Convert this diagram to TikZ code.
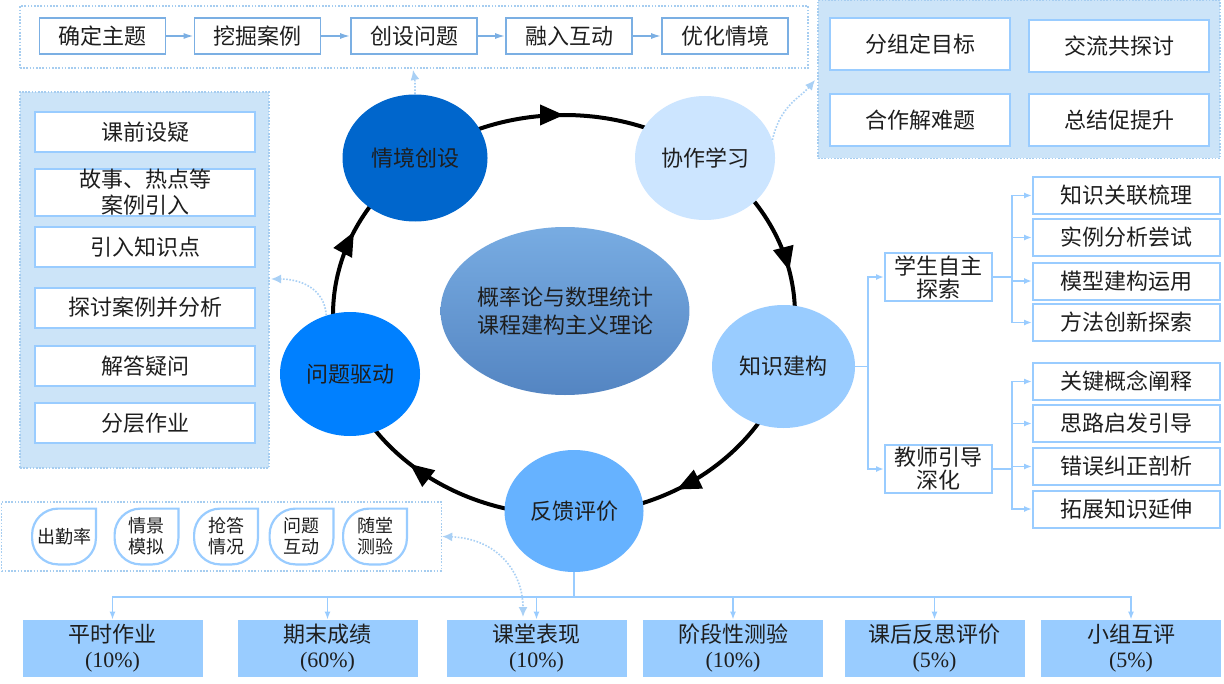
\documentclass[tikz,border=0pt]{standalone}
\usepackage{fontspec}
\usepackage{tikz}
\usetikzlibrary{shapes.geometric, arrows.meta, decorations.markings}
\setmainfont{Liberation Serif}
\newfontfamily\cjk{Noto Sans CJK SC}
\definecolor{inkgray}{HTML}{1E1E1E}
\definecolor{boxline}{HTML}{7BAFE3}
\definecolor{softline}{HTML}{99CCFF}
\definecolor{panelfill}{HTML}{CCE4F8}
\definecolor{paneldot}{HTML}{A6CDF0}
\definecolor{hintblue}{HTML}{A9D0F5}
\definecolor{scorefill}{HTML}{99CCFF}
\definecolor{stageA}{HTML}{0066CC}
\definecolor{stageB}{HTML}{CCE5FF}
\definecolor{stageC}{HTML}{99CCFF}
\definecolor{stageD}{HTML}{66B2FF}
\definecolor{stageE}{HTML}{0080FF}
\definecolor{coreTop}{HTML}{78ACE2}
\definecolor{coreBottom}{HTML}{5485C2}
\tikzset{
    cn-text/.style = {font=\cjk\fontsize{11pt}{13pt}\selectfont, text=inkgray, align=center, inner sep=0pt},
    chain-box/.style = {cn-text, draw=boxline, fill=white, line width=0.9pt, minimum width=63pt, minimum height=18pt},
    panel/.style = {draw=paneldot, dash pattern=on 0.8pt off 0.8pt, line width=0.7pt, inner sep=0pt},
    panel-fill/.style = {panel, fill=panelfill},
    card/.style = {cn-text, draw=softline, fill=white, line width=1pt},
    stage/.style = {cn-text, ellipse, minimum width=70pt, minimum height=62pt},
    drop-text/.style = {cn-text, font=\cjk\fontsize{9pt}{10.5pt}\selectfont, minimum width=31.5pt, minimum height=27.5pt},
    drop-line/.style = {draw=softline, line width=1.1pt},
    tree-line/.style = {draw=softline, line width=0.8pt},
    link/.style = {tree-line, -{Latex[length=4pt,width=3pt]}},
    chain-link/.style = {draw=boxline, line width=0.8pt, -{Latex[length=5pt,width=3pt]}},
    hint/.style = {draw=hintblue, dash pattern=on 0.8pt off 0.8pt, line width=0.8pt, -{Latex[length=5pt,width=4.5pt]}},
    score-box/.style = {cn-text, fill=scorefill, minimum width=90pt, minimum height=28.5pt, font=\cjk\fontsize{11pt}{12.5pt}\selectfont},
    cycle-ring/.style = {draw=black, line width=2pt, postaction={decorate},
        decoration={markings,
            mark=at position 0.164 with {\arrow{Triangle[length=12pt,width=10pt]}},
            mark=at position 0.372 with {\arrow{Triangle[length=12pt,width=10pt]}},
            mark=at position 0.564 with {\arrow{Triangle[length=12pt,width=10pt]}},
            mark=at position 0.75 with {\arrow{Triangle[length=12pt,width=10pt]}},
            mark=at position 0.967 with {\arrow{Triangle[length=12pt,width=10pt]}}}},
}

\begin{document}
\begin{tikzpicture}[x=0.5pt, y=-0.5pt]
\useasboundingbox (0,0) rectangle (1224,684);
\fill[white] (0,0) rectangle (1224,684);

% situation chain on top
\node[panel, minimum width=394pt, minimum height=31pt] (theme-panel) at (414,37) {};
\node[chain-box] (topic) at (102.5,36) {确定主题};
\node[chain-box] (mine) at (257.5,36) {挖掘案例};
\node[chain-box] (pose) at (414,36) {创设问题};
\node[chain-box] (blend) at (569,36) {融入互动};
\node[chain-box] (refine) at (725,36) {优化情境};
\foreach \a/\b in {topic/mine, mine/pose, pose/blend, blend/refine}
    \draw[chain-link] (\a) -- (\b);

% cooperation panel
\node[panel-fill, minimum width=201pt, minimum height=79pt] (team-panel) at (1019,79.5) {};
\node[card, minimum width=90pt, minimum height=26pt] (goal) at (920,44) {分组定目标};
\node[card, minimum width=90pt, minimum height=26pt] (talk) at (1119,46) {交流共探讨};
\node[card, minimum width=90pt, minimum height=26pt] (solve) at (920,120) {合作解难题};
\node[card, minimum width=90pt, minimum height=26pt] (sum) at (1119,120) {总结促提升};

% question panel
\node[panel-fill, minimum width=124.5pt, minimum height=188pt] (ask-panel) at (144.5,280) {};
\node[card, minimum width=110pt, minimum height=20pt] (pre) at (145,132) {课前设疑};
\node[card, minimum width=110pt, minimum height=23.5pt] (story) at (145,192.5) {故事、热点等\\案例引入};
\node[card, minimum width=110pt, minimum height=20pt] (intro) at (145,247) {引入知识点};
\node[card, minimum width=110pt, minimum height=20pt] (study) at (145,307.5) {探讨案例并分析};
\node[card, minimum width=110pt, minimum height=20pt] (answer) at (145,366) {解答疑问};
\node[card, minimum width=110pt, minimum height=20pt] (layer) at (145,423) {分层作业};

% the cycle
\draw[cycle-ring] (564,315) ellipse [x radius=231, y radius=200];
\node[stage, fill=stageA, minimum width=72.5pt, minimum height=63.5pt] (sc) at (415,158) {情境创设};
\node[stage, fill=stageB] (co) at (705,158) {协作学习};
\node[stage, fill=stageC, minimum width=71.5pt, minimum height=61.5pt] (kn) at (783.5,366.5) {知识建构};
\node[stage, fill=stageD, minimum width=69.5pt, minimum height=61pt] (fb) at (574,511) {反馈评价};
\node[stage, fill=stageE] (pd) at (350,374) {问题驱动};
\node[stage, top color=coreTop, bottom color=coreBottom, minimum width=97pt, minimum height=84pt,
    font=\cjk\fontsize{11pt}{14pt}\selectfont] (core) at (565,311) {概率论与数理统计\\课程建构主义理论};

% knowledge tree
\node[card, minimum width=53.5pt, minimum height=24pt, font=\cjk\fontsize{11pt}{11.5pt}\selectfont] (stu) at (938.5,277) {学生自主\\探索};
\node[card, minimum width=53.5pt, minimum height=24pt, font=\cjk\fontsize{11pt}{11.5pt}\selectfont] (tea) at (938.5,469) {教师引导\\深化};
\node[card, minimum width=93.5pt, minimum height=18.5pt] (k1) at (1126.5,195.5) {知识关联梳理};
\node[card, minimum width=93.5pt, minimum height=18.5pt] (k2) at (1126.5,237.5) {实例分析尝试};
\node[card, minimum width=93.5pt, minimum height=18.5pt] (k3) at (1126.5,281) {模型建构运用};
\node[card, minimum width=93.5pt, minimum height=18.5pt] (k4) at (1126.5,322.5) {方法创新探索};
\node[card, minimum width=93.5pt, minimum height=18.5pt] (t1) at (1126.5,381.5) {关键概念阐释};
\node[card, minimum width=93.5pt, minimum height=18.5pt] (t2) at (1126.5,423.5) {思路启发引导};
\node[card, minimum width=93.5pt, minimum height=18.5pt] (t3) at (1126.5,466.5) {错误纠正剖析};
\node[card, minimum width=93.5pt, minimum height=18.5pt] (t4) at (1126.5,509) {拓展知识延伸};
\coordinate (kn-split) at (868,366.5);
\coordinate (stu-split) at (1012,277);
\coordinate (tea-split) at (1012,469);
\draw[tree-line] (kn.east) -- (kn-split);
\draw[link] (kn-split) |- (stu.west);
\draw[link] (kn-split) |- (tea.west);
\draw[tree-line] (stu.east) -- (stu-split);
\draw[tree-line] (tea.east) -- (tea-split);
\foreach \b in {k1, k2, k3, k4}
    \draw[link] (stu-split) |- (\b.west);
\foreach \b in {t1, t2, t3, t4}
    \draw[link] (tea-split) |- (\b.west);

% classroom items
\node[panel, minimum width=220pt, minimum height=34.5pt] (item-panel) at (221.5,536.5) {};
\node[drop-text] (att) at (64,536.5) {出勤率};
\node[drop-text] (sim) at (146.5,536.5) {情景\\模拟};
\node[drop-text] (quick) at (226,536.5) {抢答\\情况};
\node[drop-text] (inter) at (301.5,536.5) {问题\\互动};
\node[drop-text] (quiz) at (375,536.5) {随堂\\测验};
\foreach \n in {att, sim, quick, inter, quiz}
    \draw[drop-line] (\n.north east) -- ([xshift=13pt]\n.north west)
        arc[start angle=90, end angle=180, radius=13pt] -- ([yshift=13pt]\n.south west)
        arc[start angle=180, end angle=270, radius=13pt] -- ([xshift=-13pt]\n.south east)
        arc[start angle=270, end angle=360, radius=13pt] -- cycle;

% scores
\node[score-box] (usual) at (112.5,648.5) {平时作业\\{\rmfamily (10\%)}};
\node[score-box] (final) at (327.5,648.5) {期末成绩\\{\rmfamily (60\%)}};
\node[score-box] (class) at (536.5,648.5) {课堂表现\\{\rmfamily (10\%)}};
\node[score-box] (stage-test) at (733,648.5) {阶段性测验\\{\rmfamily (10\%)}};
\node[score-box] (reflect) at (934.5,648.5) {课后反思评价\\{\rmfamily (5\%)}};
\node[score-box] (peer) at (1131,648.5) {小组互评\\{\rmfamily (5\%)}};
\coordinate (fb-split) at (574,597);
\draw[tree-line] (fb.south) -- (fb-split);
\foreach \s in {usual, final, class, stage-test, reflect, peer}
    \draw[link] (fb-split) -| (\s.north);

% dotted hints
\coordinate (sc-hint) at (413,70);
\coordinate (co-hint) at (815,80);
\coordinate (pd-hint) at (271,279);
\coordinate (class-hint) at (523,617);
\draw[hint] (sc.north) .. controls +(0,-12) and +(2,10) .. (sc-hint);
\draw[hint] (co.15) .. controls +(8,-35) and +(-15,18) .. (co-hint);
\draw[hint] (pd.112) .. controls +(-2,-28) and +(28,0) .. (pd-hint);
\draw[hint, {Latex[length=5pt,width=4.5pt]}-{Latex[length=5pt,width=4.5pt]}]
    (item-panel.east) .. controls +(55,2) and +(0,-45) .. (class-hint);
\end{tikzpicture}
\end{document}
